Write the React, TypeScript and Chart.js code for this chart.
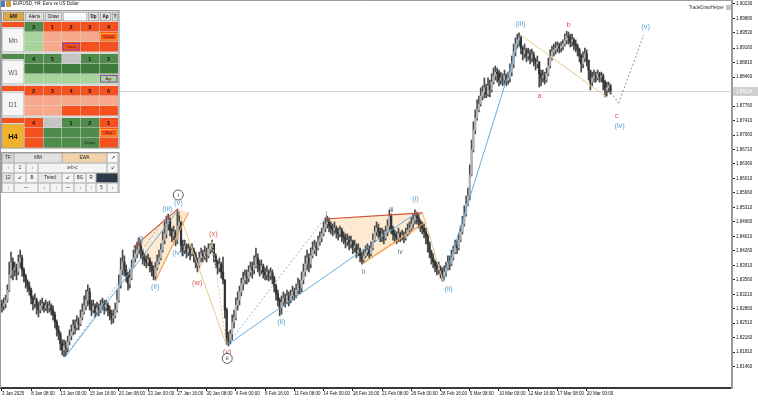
import React, { useEffect, useRef } from 'react';
import { Chart, registerables } from 'chart.js';
Chart.register(...registerables);

// ---------------- DATA ----------------
const CLOSES = [
  1.8293, 1.8298, 1.8307, 1.8331, 1.8368, 1.8399, 1.8380, 1.8385, 1.8375, 1.8399,
  1.8409, 1.8380, 1.8365, 1.8351, 1.8341, 1.8331, 1.8312, 1.8298, 1.8307, 1.8293,
  1.8283, 1.8293, 1.8298, 1.8288, 1.8295, 1.8288, 1.8293, 1.8283, 1.8271, 1.8254,
  1.8235, 1.8225, 1.8201, 1.8186, 1.8196, 1.8191, 1.8206, 1.8220, 1.8230, 1.8245,
  1.8240, 1.8254, 1.8249, 1.8264, 1.8278, 1.8293, 1.8307, 1.8327, 1.8298, 1.8283,
  1.8293, 1.8278, 1.8288, 1.8283, 1.8293, 1.8298, 1.8288, 1.8295, 1.8283, 1.8273,
  1.8264, 1.8269, 1.8283, 1.8307, 1.8344, 1.8380, 1.8399, 1.8380, 1.8368, 1.8346,
  1.8360, 1.8385, 1.8409, 1.8419, 1.8428, 1.8438, 1.8423, 1.8409, 1.8404, 1.8399,
  1.8404, 1.8390, 1.8380, 1.8365, 1.8385, 1.8399, 1.8409, 1.8428, 1.8452, 1.8467,
  1.8491, 1.8501, 1.8476, 1.8462, 1.8472, 1.8452, 1.8486, 1.8496, 1.8440, 1.8428,
  1.8438, 1.8423, 1.8431, 1.8419, 1.8428, 1.8416, 1.8399, 1.8390, 1.8409, 1.8419,
  1.8414, 1.8423, 1.8414, 1.8428, 1.8438, 1.8443, 1.8414, 1.8399, 1.8385, 1.8394,
  1.8375, 1.8356, 1.8283, 1.8216, 1.8211, 1.8225, 1.8254, 1.8264, 1.8295, 1.8307,
  1.8327, 1.8346, 1.8356, 1.8365, 1.8360, 1.8375, 1.8385, 1.8380, 1.8390, 1.8409,
  1.8394, 1.8380, 1.8390, 1.8375, 1.8368, 1.8375, 1.8365, 1.8373, 1.8360, 1.8341,
  1.8322, 1.8307, 1.8288, 1.8302, 1.8312, 1.8302, 1.8317, 1.8307, 1.8317, 1.8327,
  1.8319, 1.8331, 1.8344, 1.8336, 1.8356, 1.8375, 1.8394, 1.8409, 1.8394, 1.8414,
  1.8428, 1.8438, 1.8433, 1.8448, 1.8457, 1.8467, 1.8481, 1.8491, 1.8496, 1.8486,
  1.8481, 1.8476, 1.8481, 1.8472, 1.8467, 1.8476, 1.8462, 1.8457, 1.8448, 1.8452,
  1.8443, 1.8448, 1.8433, 1.8438, 1.8423, 1.8428, 1.8414, 1.8404, 1.8414, 1.8423,
  1.8428, 1.8419, 1.8433, 1.8452, 1.8472, 1.8481, 1.8472, 1.8462, 1.8467, 1.8457,
  1.8472, 1.8486, 1.8510, 1.8481, 1.8467, 1.8462, 1.8457, 1.8467, 1.8460, 1.8464,
  1.8457, 1.8467, 1.8476, 1.8481, 1.8491, 1.8501, 1.8510, 1.8506, 1.8496, 1.8486,
  1.8481, 1.8472, 1.8462, 1.8443, 1.8423, 1.8409, 1.8399, 1.8390, 1.8380, 1.8385,
  1.8375, 1.8365, 1.8375, 1.8385, 1.8399, 1.8394, 1.8409, 1.8423, 1.8438, 1.8433,
  1.8452, 1.8472, 1.8491, 1.8515, 1.8539, 1.8559, 1.8609, 1.8670, 1.8718, 1.8747,
  1.8767, 1.8781, 1.8800, 1.8810, 1.8820, 1.8805, 1.8825, 1.8815, 1.8834, 1.8849,
  1.8858, 1.8854, 1.8839, 1.8844, 1.8839, 1.8849, 1.8839, 1.8844, 1.8858, 1.8878,
  1.8907, 1.8926, 1.8936, 1.8941, 1.8916, 1.8902, 1.8912, 1.8897, 1.8902, 1.8892,
  1.8900, 1.8887, 1.8878, 1.8883, 1.8854, 1.8844, 1.8849, 1.8839, 1.8854, 1.8873,
  1.8892, 1.8907, 1.8912, 1.8916, 1.8921, 1.8916, 1.8921, 1.8926, 1.8936, 1.8945,
  1.8941, 1.8931, 1.8936, 1.8926, 1.8921, 1.8912, 1.8897, 1.8878, 1.8892, 1.8902,
  1.8887, 1.8863, 1.8834, 1.8844, 1.8849, 1.8844, 1.8854, 1.8846, 1.8849, 1.8834,
  1.8815, 1.8820, 1.8825, 1.8812,
];
const HIGHS = [
  1.8307, 1.8312, 1.8319, 1.8344, 1.8399, 1.8423, 1.8409, 1.8399, 1.8394, 1.8416,
  1.8428, 1.8416, 1.8385, 1.8370, 1.8356, 1.8351, 1.8336, 1.8317, 1.8322, 1.8312,
  1.8302, 1.8307, 1.8312, 1.8302, 1.8307, 1.8302, 1.8305, 1.8298, 1.8293, 1.8278,
  1.8259, 1.8245, 1.8230, 1.8211, 1.8211, 1.8208, 1.8220, 1.8235, 1.8247, 1.8259,
  1.8259, 1.8269, 1.8264, 1.8283, 1.8298, 1.8317, 1.8331, 1.8344, 1.8336, 1.8307,
  1.8307, 1.8298, 1.8302, 1.8298, 1.8307, 1.8312, 1.8307, 1.8307, 1.8300, 1.8293,
  1.8283, 1.8283, 1.8300, 1.8331, 1.8368, 1.8409, 1.8428, 1.8414, 1.8392, 1.8375,
  1.8380, 1.8404, 1.8428, 1.8438, 1.8448, 1.8457, 1.8448, 1.8428, 1.8419, 1.8414,
  1.8419, 1.8409, 1.8399, 1.8390, 1.8399, 1.8416, 1.8428, 1.8443, 1.8472, 1.8496,
  1.8510, 1.8515, 1.8506, 1.8481, 1.8486, 1.8476, 1.8525, 1.8520, 1.8496, 1.8452,
  1.8452, 1.8443, 1.8443, 1.8438, 1.8443, 1.8433, 1.8423, 1.8409, 1.8423, 1.8433,
  1.8428, 1.8438, 1.8433, 1.8443, 1.8443, 1.8452, 1.8438, 1.8419, 1.8404, 1.8409,
  1.8399, 1.8411, 1.8356, 1.8288, 1.8230, 1.8235, 1.8271, 1.8283, 1.8312, 1.8327,
  1.8341, 1.8360, 1.8375, 1.8380, 1.8380, 1.8390, 1.8399, 1.8399, 1.8414, 1.8433,
  1.8419, 1.8404, 1.8404, 1.8394, 1.8385, 1.8390, 1.8380, 1.8385, 1.8380, 1.8365,
  1.8346, 1.8331, 1.8312, 1.8317, 1.8327, 1.8322, 1.8331, 1.8327, 1.8331, 1.8341,
  1.8336, 1.8346, 1.8360, 1.8356, 1.8375, 1.8394, 1.8414, 1.8428, 1.8419, 1.8433,
  1.8448, 1.8452, 1.8448, 1.8462, 1.8472, 1.8481, 1.8496, 1.8506, 1.8510, 1.8506,
  1.8496, 1.8491, 1.8496, 1.8486, 1.8481, 1.8486, 1.8481, 1.8472, 1.8467, 1.8467,
  1.8462, 1.8462, 1.8452, 1.8452, 1.8443, 1.8443, 1.8433, 1.8423, 1.8428, 1.8438,
  1.8443, 1.8438, 1.8448, 1.8467, 1.8486, 1.8496, 1.8491, 1.8481, 1.8481, 1.8476,
  1.8486, 1.8501, 1.8525, 1.8515, 1.8486, 1.8476, 1.8472, 1.8481, 1.8472, 1.8476,
  1.8472, 1.8481, 1.8491, 1.8496, 1.8506, 1.8515, 1.8525, 1.8520, 1.8515, 1.8501,
  1.8496, 1.8491, 1.8481, 1.8467, 1.8448, 1.8428, 1.8419, 1.8404, 1.8399, 1.8399,
  1.8390, 1.8385, 1.8390, 1.8399, 1.8414, 1.8414, 1.8428, 1.8438, 1.8452, 1.8452,
  1.8467, 1.8486, 1.8510, 1.8535, 1.8559, 1.8578, 1.8634, 1.8694, 1.8738, 1.8767,
  1.8791, 1.8800, 1.8820, 1.8825, 1.8844, 1.8829, 1.8844, 1.8839, 1.8854, 1.8868,
  1.8873, 1.8868, 1.8863, 1.8858, 1.8854, 1.8863, 1.8854, 1.8858, 1.8878, 1.8897,
  1.8926, 1.8941, 1.8950, 1.8953, 1.8945, 1.8921, 1.8926, 1.8916, 1.8916, 1.8912,
  1.8914, 1.8907, 1.8892, 1.8897, 1.8883, 1.8863, 1.8863, 1.8858, 1.8868, 1.8892,
  1.8912, 1.8921, 1.8926, 1.8931, 1.8931, 1.8928, 1.8931, 1.8936, 1.8950, 1.8957,
  1.8955, 1.8950, 1.8950, 1.8941, 1.8936, 1.8926, 1.8916, 1.8902, 1.8907, 1.8916,
  1.8912, 1.8887, 1.8858, 1.8858, 1.8863, 1.8858, 1.8863, 1.8858, 1.8858, 1.8854,
  1.8839, 1.8834, 1.8834, 1.8829,
];
const LOWS = [
  1.8278, 1.8283, 1.8288, 1.8302, 1.8327, 1.8360, 1.8356, 1.8365, 1.8356, 1.8368,
  1.8385, 1.8365, 1.8351, 1.8336, 1.8327, 1.8319, 1.8298, 1.8283, 1.8288, 1.8273,
  1.8266, 1.8276, 1.8283, 1.8278, 1.8281, 1.8276, 1.8278, 1.8271, 1.8259, 1.8240,
  1.8220, 1.8211, 1.8186, 1.8174, 1.8170, 1.8172, 1.8182, 1.8199, 1.8211, 1.8223,
  1.8225, 1.8235, 1.8235, 1.8245, 1.8259, 1.8273, 1.8283, 1.8293, 1.8283, 1.8269,
  1.8276, 1.8266, 1.8271, 1.8269, 1.8276, 1.8283, 1.8273, 1.8281, 1.8269, 1.8259,
  1.8249, 1.8252, 1.8264, 1.8278, 1.8302, 1.8336, 1.8368, 1.8365, 1.8351, 1.8331,
  1.8336, 1.8356, 1.8390, 1.8399, 1.8409, 1.8419, 1.8409, 1.8394, 1.8390, 1.8385,
  1.8390, 1.8375, 1.8365, 1.8356, 1.8356, 1.8380, 1.8394, 1.8404, 1.8423, 1.8443,
  1.8457, 1.8476, 1.8462, 1.8448, 1.8452, 1.8438, 1.8443, 1.8476, 1.8423, 1.8414,
  1.8419, 1.8409, 1.8414, 1.8404, 1.8414, 1.8399, 1.8385, 1.8375, 1.8385, 1.8399,
  1.8399, 1.8404, 1.8399, 1.8409, 1.8419, 1.8423, 1.8399, 1.8385, 1.8370, 1.8375,
  1.8360, 1.8346, 1.8264, 1.8199, 1.8196, 1.8201, 1.8211, 1.8240, 1.8259, 1.8283,
  1.8295, 1.8317, 1.8331, 1.8346, 1.8346, 1.8351, 1.8365, 1.8360, 1.8370, 1.8385,
  1.8375, 1.8365, 1.8370, 1.8360, 1.8356, 1.8356, 1.8353, 1.8356, 1.8346, 1.8327,
  1.8307, 1.8293, 1.8269, 1.8273, 1.8293, 1.8290, 1.8298, 1.8293, 1.8300, 1.8307,
  1.8307, 1.8312, 1.8322, 1.8322, 1.8327, 1.8346, 1.8365, 1.8380, 1.8375, 1.8385,
  1.8409, 1.8419, 1.8414, 1.8428, 1.8440, 1.8448, 1.8462, 1.8472, 1.8481, 1.8472,
  1.8467, 1.8462, 1.8467, 1.8457, 1.8452, 1.8460, 1.8448, 1.8443, 1.8433, 1.8438,
  1.8428, 1.8433, 1.8419, 1.8423, 1.8409, 1.8414, 1.8399, 1.8394, 1.8397, 1.8409,
  1.8414, 1.8409, 1.8414, 1.8428, 1.8448, 1.8462, 1.8457, 1.8448, 1.8448, 1.8443,
  1.8452, 1.8462, 1.8476, 1.8467, 1.8452, 1.8448, 1.8443, 1.8448, 1.8448, 1.8452,
  1.8445, 1.8452, 1.8462, 1.8467, 1.8472, 1.8481, 1.8491, 1.8491, 1.8481, 1.8472,
  1.8467, 1.8457, 1.8443, 1.8423, 1.8409, 1.8394, 1.8385, 1.8375, 1.8368, 1.8370,
  1.8360, 1.8353, 1.8356, 1.8365, 1.8380, 1.8380, 1.8390, 1.8404, 1.8419, 1.8419,
  1.8428, 1.8448, 1.8467, 1.8486, 1.8510, 1.8535, 1.8549, 1.8607, 1.8665, 1.8709,
  1.8742, 1.8762, 1.8776, 1.8791, 1.8796, 1.8796, 1.8800, 1.8798, 1.8810, 1.8829,
  1.8839, 1.8834, 1.8825, 1.8829, 1.8825, 1.8829, 1.8825, 1.8829, 1.8834, 1.8849,
  1.8868, 1.8897, 1.8916, 1.8921, 1.8902, 1.8887, 1.8892, 1.8883, 1.8887, 1.8878,
  1.8883, 1.8873, 1.8863, 1.8868, 1.8822, 1.8825, 1.8834, 1.8829, 1.8834, 1.8849,
  1.8868, 1.8887, 1.8897, 1.8902, 1.8907, 1.8904, 1.8907, 1.8912, 1.8921, 1.8926,
  1.8926, 1.8919, 1.8921, 1.8912, 1.8907, 1.8897, 1.8883, 1.8858, 1.8868, 1.8883,
  1.8873, 1.8839, 1.8815, 1.8825, 1.8834, 1.8834, 1.8839, 1.8834, 1.8834, 1.8815,
  1.8798, 1.8800, 1.8810, 1.8805,
];
const FIRST_OPEN = 1.8298;
const BID_PRICE = 1.88124;
const SLOT_COUNT = 400;

const X_TICK_INDEX = [0, 16, 32, 48, 64, 80, 96, 112, 128, 144, 160, 176, 192, 208, 224, 240, 256, 272, 288, 304, 320];
const X_TICK_LABELS = [
  '3 Jan 2025', '8 Jan 08:00', '13 Jan 00:00', '15 Jan 16:00', '20 Jan 08:00', '23 Jan 00:00',
  '27 Jan 16:00', '30 Jan 08:00', '4 Feb 00:00', '6 Feb 16:00', '11 Feb 08:00', '14 Feb 00:00',
  '18 Feb 16:00', '21 Feb 08:00', '26 Feb 00:00', '28 Feb 16:00', '5 Mar 08:00', '10 Mar 00:00',
  '12 Mar 16:00', '17 Mar 08:00', '20 Mar 00:00',
];
const Y_TICKS = [
  1.81460, 1.81810, 1.82160, 1.82510, 1.82860, 1.83210, 1.83560, 1.83910, 1.84260, 1.84610,
  1.84960, 1.85310, 1.85660, 1.86010, 1.86360, 1.86710, 1.87060, 1.87410, 1.87760, 1.88460,
  1.88810, 1.89160, 1.89530, 1.89880, 1.90230,
];
const Y_MIN = 1.80945;
const Y_MAX = 1.90324;

// Elliott-wave drawing objects, in (bar index, price)
const BLUE_SOLID = [
  [34.6, 1.8170, 96.5, 1.8525],
  [123.3, 1.8199, 227.4, 1.8520],
  [241.6, 1.8351, 283.8, 1.8948],
];
const BLUE_DOTTED = [
  [34.6, 1.8170, 90.5, 1.8513],
  [123.3, 1.8199, 178.1, 1.8513],
];
const WEDGE_UPPER = [
  [71.9, 1.8435, 96.5, 1.8528],
  [177.0, 1.8503, 230.1, 1.8518],
];
const WEDGE_LOWER = [
  [83.9, 1.8353, 102.0, 1.8518],
  [197.8, 1.8397, 230.1, 1.8491],
];
const TAN_SOLID = [
  [96.8, 1.8520, 122.8, 1.8199],
  [230.1, 1.8518, 241.6, 1.8351],
  [283.8, 1.8948, 331.4, 1.8796],
];
const TAN_DOTTED = [
  [107.4, 1.8375, 115.1, 1.8448],
  [115.1, 1.8448, 122.8, 1.8199],
];
const PROJECTION = [
  [332.0, 1.8817, 337.5, 1.8783],
  [337.5, 1.8783, 351.2, 1.8948],
];
const WEDGE_FILLS = [
  [[71.9, 1.8435], [96.5, 1.8528], [102.0, 1.8518], [83.9, 1.8353]],
  [[177.0, 1.8503], [230.1, 1.8520], [232.9, 1.8491], [197.8, 1.8394]],
];
const LABELS_BLUE: [string, number, number][] = [
  ['(i)', 75.7, 1.8455], ['(ii)', 83.9, 1.8339], ['(iii)', 90.5, 1.8527], ['(iv)', 96.0, 1.8421],
  ['(v)', 96.5, 1.8542], ['(ii)', 152.9, 1.8254], ['(i)', 226.3, 1.8551], ['(ii)', 244.4, 1.8334],
  ['(iii)', 283.8, 1.8974], ['(iv)', 338.0, 1.8728], ['(v)', 352.2, 1.8967],
];
const LABELS_RED: [string, number, number][] = [
  ['(w)', 106.9, 1.8348], ['(x)', 115.7, 1.8467], ['(y)', 123.3, 1.8182],
  ['a', 294.2, 1.8800], ['b', 310.1, 1.8972], ['c', 336.4, 1.8752],
];
const LABELS_MINOR: [string, number, number][] = [
  ['i', 177.5, 1.8515], ['ii', 197.8, 1.8375], ['iii', 213.1, 1.8525], ['iv', 218.0, 1.8423],
];
const LABELS_CIRCLED: [string, number, number][] = [
  ['i', 96.5, 1.8561], ['ii', 123.3, 1.8166],
];

// ---------------- STYLES ----------------
const FONT = '"Liberation Sans", Arial, sans-serif';
const C_BLUE = '#5aa4d4';
const C_RED = '#d8604e';
const C_MINOR = '#5b6672';
const C_TAN = '#e7c98d';
const C_WEDGE_UP = '#d2503a';
const C_WEDGE_LO = '#efa04e';
const C_FILL = 'rgba(252, 206, 152, 0.45)';

const ewaPlugin = {
  id: 'ewa',
  beforeDatasetsDraw(chart: any) {
    const { ctx, chartArea: a, scales } = chart;
    const X = (i: number) => scales.x.getPixelForValue(i);
    const Y = (p: number) => scales.y.getPixelForValue(p);
    ctx.save();
    ctx.strokeStyle = '#d6d6d6';
    ctx.lineWidth = 1;
    ctx.beginPath();
    ctx.moveTo(0, Math.round(Y(BID_PRICE)) + 0.5);
    ctx.lineTo(a.right, Math.round(Y(BID_PRICE)) + 0.5);
    ctx.stroke();
    ctx.fillStyle = C_FILL;
    WEDGE_FILLS.forEach((poly) => {
      ctx.beginPath();
      poly.forEach(([i, p], k) => (k ? ctx.lineTo(X(i), Y(p)) : ctx.moveTo(X(i), Y(p))));
      ctx.closePath();
      ctx.fill();
    });
    ctx.restore();
  },
  afterDatasetsDraw(chart: any) {
    const { ctx, scales } = chart;
    const X = (i: number) => scales.x.getPixelForValue(i);
    const Y = (p: number) => scales.y.getPixelForValue(p);
    const segs = (list: number[][], color: string, width: number, dash: number[]) => {
      ctx.save();
      ctx.strokeStyle = color;
      ctx.lineWidth = width;
      ctx.setLineDash(dash);
      list.forEach(([i1, p1, i2, p2]) => {
        ctx.beginPath();
        ctx.moveTo(X(i1), Y(p1));
        ctx.lineTo(X(i2), Y(p2));
        ctx.stroke();
      });
      ctx.restore();
    };
    segs(BLUE_DOTTED, C_BLUE, 0.8, [2, 2]);
    segs(BLUE_SOLID, C_BLUE, 0.9, []);
    segs(TAN_SOLID, C_TAN, 1, []);
    segs(TAN_DOTTED, C_TAN, 1, [2, 2]);
    segs(WEDGE_UPPER, C_WEDGE_UP, 1.2, []);
    segs(WEDGE_LOWER, C_WEDGE_LO, 1.2, []);
    segs(PROJECTION, '#777', 0.8, [2, 2]);

    ctx.save();
    ctx.textAlign = 'center';
    ctx.textBaseline = 'middle';
    const txt = (list: [string, number, number][], color: string, size: number) => {
      ctx.fillStyle = color;
      ctx.font = `${size}px ${FONT}`;
      list.forEach(([t, i, p]) => ctx.fillText(t, X(i), Y(p)));
    };
    txt(LABELS_BLUE, C_BLUE, 7.5);
    txt(LABELS_RED, C_RED, 7.5);
    txt(LABELS_MINOR, C_MINOR, 6.5);
    LABELS_CIRCLED.forEach(([t, i, p]) => {
      ctx.beginPath();
      ctx.arc(X(i), Y(p), 5, 0, Math.PI * 2);
      ctx.fillStyle = '#fff';
      ctx.fill();
      ctx.strokeStyle = '#333';
      ctx.lineWidth = 0.8;
      ctx.stroke();
      ctx.fillStyle = '#333';
      ctx.font = `6px ${FONT}`;
      ctx.fillText(t, X(i), Y(p) + 0.3);
    });
    ctx.restore();
  },
  afterDraw(chart: any) {
    const { ctx, chartArea: a, scales } = chart;
    const y = Math.round(scales.y.getPixelForValue(BID_PRICE));
    ctx.save();
    ctx.fillStyle = '#cfcfcf';
    ctx.fillRect(a.right + 1, y - 4, 26, 9);
    ctx.fillStyle = '#fff';
    ctx.font = `4.5px ${FONT}`;
    ctx.textBaseline = 'middle';
    ctx.textAlign = 'left';
    ctx.fillText(BID_PRICE.toFixed(5), a.right + 4, y + 0.5);
    ctx.strokeStyle = '#9a9a9a';
    ctx.lineWidth = 1;
    ctx.beginPath();
    ctx.moveTo(0.5, a.bottom);
    ctx.lineTo(0.5, 0.5);
    ctx.lineTo(a.right, 0.5);
    ctx.stroke();
    ctx.fillStyle = '#333';
    ctx.textAlign = 'right';
    ctx.font = `4.5px ${FONT}`;
    ctx.fillText('TradeDrawHelper', 724, 8);
    ctx.fillStyle = '#c4c4c4';
    ctx.fillRect(726, 5, 5, 5);
    ctx.restore();
  },
};

// ---------------- PANEL ----------------
const S = 2;
const OR = '#f4511e';
const SAL = '#f8a98b';
const G = '#4f8c4c';
const DG = '#3f7b3d';
const LG = '#a6d49a';
const GR = '#c4c4c4';

const TF_NAMES = ['Mn', 'W1', 'D1', 'H4'];
const TF_TOPS = [22, 54, 86, 118];
const TF_STRIPES = [OR, G, OR, OR];
const TF_NUMS = [
  ['3', '1', '2', '3', '4'],
  ['4', '5', '', '1', '2'],
  ['2', '3', '4', '5', '6'],
  ['4', '', '1', '2', '1'],
];
const TF_CELLS = [
  [[G, OR, OR, OR, OR], [LG, SAL, SAL, SAL, OR], [LG, SAL, OR, OR, OR]],
  [[G, G, GR, G, G], [DG, DG, DG, DG, DG], [LG, LG, LG, LG, LG]],
  [[OR, OR, OR, OR, OR], [SAL, SAL, SAL, SAL, SAL], [SAL, SAL, OR, OR, OR]],
  [[OR, GR, G, G, OR], [OR, G, G, G, OR], [OR, G, G, G, OR]],
];
const TF_TAGS: [number, number, number, string, string | null][] = [
  [0, 1, 4, 'Cross', '#f2b632'],
  [0, 2, 2, 'Cross', '#8e44ad'],
  [1, 2, 4, 'Agr', '#8e44ad'],
  [3, 1, 4, 'Sau', '#f2b632'],
  [3, 2, 3, 'Disagr', null],
];
const BUTTONS: [string, number, number, string, boolean][] = [
  ['BW', 3, 24, '#d9a94c', true],
  ['Alerts', 25, 44, '#dedede', false],
  ['Draw', 45, 62, '#dedede', false],
  ['', 63, 87, '#ffffff', false],
  ['Dp', 88, 99, '#dedede', true],
  ['Ap', 100, 111, '#dedede', true],
  ['T', 112, 118, '#dedede', true],
];
const EWA_ROWS: [string, number, number, string][][] = [
  [['TF', 2, 14, '#d6d6d6'], ['MM', 14, 62, '#e2e2e2'], ['EWA', 62, 107, '#f2d2a8'], ['↗', 107, 118, '#fafafa']],
  [['↑', 2, 14, '#f4f4f4'], ['1', 14, 26, '#f4f4f4'], ['↓', 26, 38, '#f4f4f4'], ['a-b-c', 38, 107, '#f4f4f4'], ['↙', 107, 118, '#f4f4f4']],
  [['12', 2, 14, '#e2e2e2'], ['↙', 14, 26, '#f4f4f4'], ['B', 26, 38, '#f4f4f4'], ['Trend', 38, 62, '#e8e8e8'], ['↙', 62, 74, '#f4f4f4'], ['BG', 74, 86, '#f4f4f4'], ['R', 86, 96, '#f4f4f4'], ['', 96, 118, '#2d3a4c']],
  [['↑', 2, 14, '#f4f4f4'], ['—', 14, 38, '#f4f4f4'], ['↓', 38, 50, '#f4f4f4'], ['↑', 50, 62, '#f4f4f4'], ['—', 62, 74, '#f4f4f4'], ['↓', 74, 86, '#f4f4f4'], ['↑', 86, 96, '#f4f4f4'], ['5', 96, 107, '#f4f4f4'], ['↓', 107, 118, '#f4f4f4']],
];
const EWA_TOPS = [153, 163, 173, 183];

function Box(props: { x: number; y: number; w: number; h: number; bg: string; border?: string; bw?: number; children?: any; fs?: number; bold?: boolean; color?: string }) {
  const { x, y, w, h, bg, border, bw = 1, children, fs = 9, bold, color = '#111' } = props;
  return (
    <div
      style={{
        position: 'absolute', left: x * S, top: y * S, width: w * S, height: h * S, background: bg,
        border: border ? `${bw}px solid ${border}` : 'none', boxSizing: 'border-box',
        display: 'flex', alignItems: 'center', justifyContent: 'center', fontSize: fs,
        fontWeight: bold ? 700 : 400, color, fontFamily: FONT, lineHeight: 1, whiteSpace: 'nowrap', overflow: 'hidden',
      }}
    >
      {children}
    </div>
  );
}

function Panel() {
  const items: any[] = [];
  items.push(<Box key="ic1" x={1} y={1} w={4} h={6} bg="#4a7fc0" />);
  items.push(<Box key="ic2" x={6} y={1} w={5} h={6} bg="#d0a040" />);
  items.push(
    <div key="title" style={{ position: 'absolute', left: 13 * S, top: 1 * S, fontSize: 9, fontFamily: FONT, color: '#111', whiteSpace: 'nowrap', lineHeight: 1 }}>
      EURUSD, H4: Euro vs US Dollar
    </div>
  );
  items.push(<Box key="p1" x={1} y={10} w={118.5} h={138.5} bg="#d9d9d9" border="#9c9c9c" bw={2} />);
  BUTTONS.forEach(([t, x0, x1, bg, bold], k) =>
    items.push(<Box key={'b' + k} x={x0} y={12} w={x1 - x0} h={9} bg={bg} border="#8c8c8c" fs={9} bold={bold}>{t}</Box>)
  );
  TF_NAMES.forEach((name, b) => {
    const top = TF_TOPS[b];
    items.push(<Box key={'st' + b} x={2} y={top} w={22} h={5} bg={TF_STRIPES[b]} />);
    const isH4 = name === 'H4';
    items.push(
      <Box key={'lb' + b} x={2} y={top + 6} w={22} h={24} bg={isH4 ? '#f0b22a' : '#f6f6f6'} border="#b0b0b0" fs={isH4 ? 15 : 13} bold={isH4} color={isH4 ? '#111' : '#555'}>
        {name}
      </Box>
    );
    TF_CELLS[b].forEach((row, r) =>
      row.forEach((bg, c) => {
        const x = 24.5 + c * 18.75;
        const y = top + r * 10;
        items.push(
          <Box key={`c${b}${r}${c}`} x={x} y={y} w={18.25} h={9.5} bg={bg} fs={11} bold>
            {r === 0 ? TF_NUMS[b][c] : ''}
          </Box>
        );
      })
    );
  });
  TF_TAGS.forEach(([b, r, c, t, bc], k) => {
    const x = 24.5 + c * 18.75;
    const y = TF_TOPS[b] + r * 10;
    const bg = TF_CELLS[b][r][c];
    if (bc) {
      items.push(<Box key={'t' + k} x={x + 0.5} y={y + 1} w={17.25} h={7.5} bg={bg} border={bc} bw={2} fs={8} color="#5a0d0d">{t}</Box>);
    } else {
      items.push(<Box key={'t' + k} x={x} y={y} w={18.25} h={9.5} bg={bg} fs={7.5} color="#0c2a0c">{t}</Box>);
    }
  });
  items.push(<Box key="p2" x={1} y={152} w={118.5} h={41} bg="#e6e6e6" border="#9c9c9c" bw={2} />);
  EWA_ROWS.forEach((row, r) =>
    row.forEach(([t, x0, x1, bg], k) =>
      items.push(
        <Box key={`e${r}${k}`} x={x0} y={EWA_TOPS[r]} w={x1 - x0} h={9.5} bg={bg} border="#a8a8a8" fs={9} color="#222">
          {t}
        </Box>
      )
    )
  );
  return (
    <div style={{ position: 'absolute', left: 0, top: 0, width: 120 * S, height: 200 * S, transform: 'scale(0.5)', transformOrigin: '0 0' }}>
      {items}
    </div>
  );
}

// ---------------- CHART ----------------
export default function App() {
  const ref = useRef<HTMLCanvasElement>(null);
  useEffect(() => {
    document.body.style.margin = '0';
    const labels = Array.from({ length: SLOT_COUNT }, () => '');
    X_TICK_INDEX.forEach((idx, k) => (labels[idx] = X_TICK_LABELS[k]));
    const opens = CLOSES.map((c, i) => (i === 0 ? FIRST_OPEN : CLOSES[i - 1]));
    const bodies = CLOSES.map((c, i) => [opens[i], c]);
    const wicks = CLOSES.map((c, i) => [LOWS[i], HIGHS[i]]);
    const bodyColors = CLOSES.map((c, i) => (c >= opens[i] ? '#b4b4b4' : '#333333'));

    const chart = new Chart(ref.current as HTMLCanvasElement, {
      type: 'bar',
      data: {
        labels,
        datasets: [
          { data: bodies as any, backgroundColor: bodyColors, barThickness: 1.6, grouped: false, borderWidth: 0, minBarLength: 1, order: 0 } as any,
          { data: wicks as any, backgroundColor: '#4a4a4a', barThickness: 1, grouped: false, borderWidth: 0, order: 1 } as any,
        ],
      },
      options: {
        responsive: false,
        maintainAspectRatio: false,
        animation: false,
        events: [],
        layout: { padding: { left: 1, top: 0, right: 0, bottom: 0 } },
        plugins: { legend: { display: false }, tooltip: { enabled: false } },
        scales: {
          x: {
            type: 'category',
            offset: true,
            grid: { drawOnChartArea: false, drawTicks: true, tickLength: 3, color: '#222', offset: false },
            border: { display: true, color: '#3a3a3a', width: 2 },
            ticks: { autoSkip: false, maxRotation: 0, minRotation: 0, align: 'start', padding: 0, color: '#111', font: { size: 4.5, family: FONT } },
            afterBuildTicks: (s: any) => { s.ticks = X_TICK_INDEX.map((v) => ({ value: v })); },
            afterFit: (s: any) => { s.height = 13; s.paddingLeft = 0; s.paddingRight = 0; },
          } as any,
          y: {
            position: 'right',
            min: Y_MIN,
            max: Y_MAX,
            grid: { drawOnChartArea: false, drawTicks: true, tickLength: 3, color: '#222' },
            border: { display: true, color: '#9c9c9c', width: 2 },
            ticks: { padding: 1, color: '#111', font: { size: 4.5, family: FONT }, callback: (v: any) => Number(v).toFixed(5) },
            afterBuildTicks: (s: any) => { s.ticks = Y_TICKS.map((v) => ({ value: v })); },
            afterFit: (s: any) => { s.width = 26; s.paddingTop = 0; s.paddingBottom = 0; },
          } as any,
        },
      },
      plugins: [ewaPlugin],
    });
    return () => chart.destroy();
  }, []);

  return (
    <div style={{ position: 'fixed', left: 0, top: 0, width: 758, height: 401, background: '#fff', overflow: 'hidden' }}>
      <canvas ref={ref} width={758} height={401} style={{ display: 'block', width: 758, height: 401 }} />
      <Panel />
    </div>
  );
}
